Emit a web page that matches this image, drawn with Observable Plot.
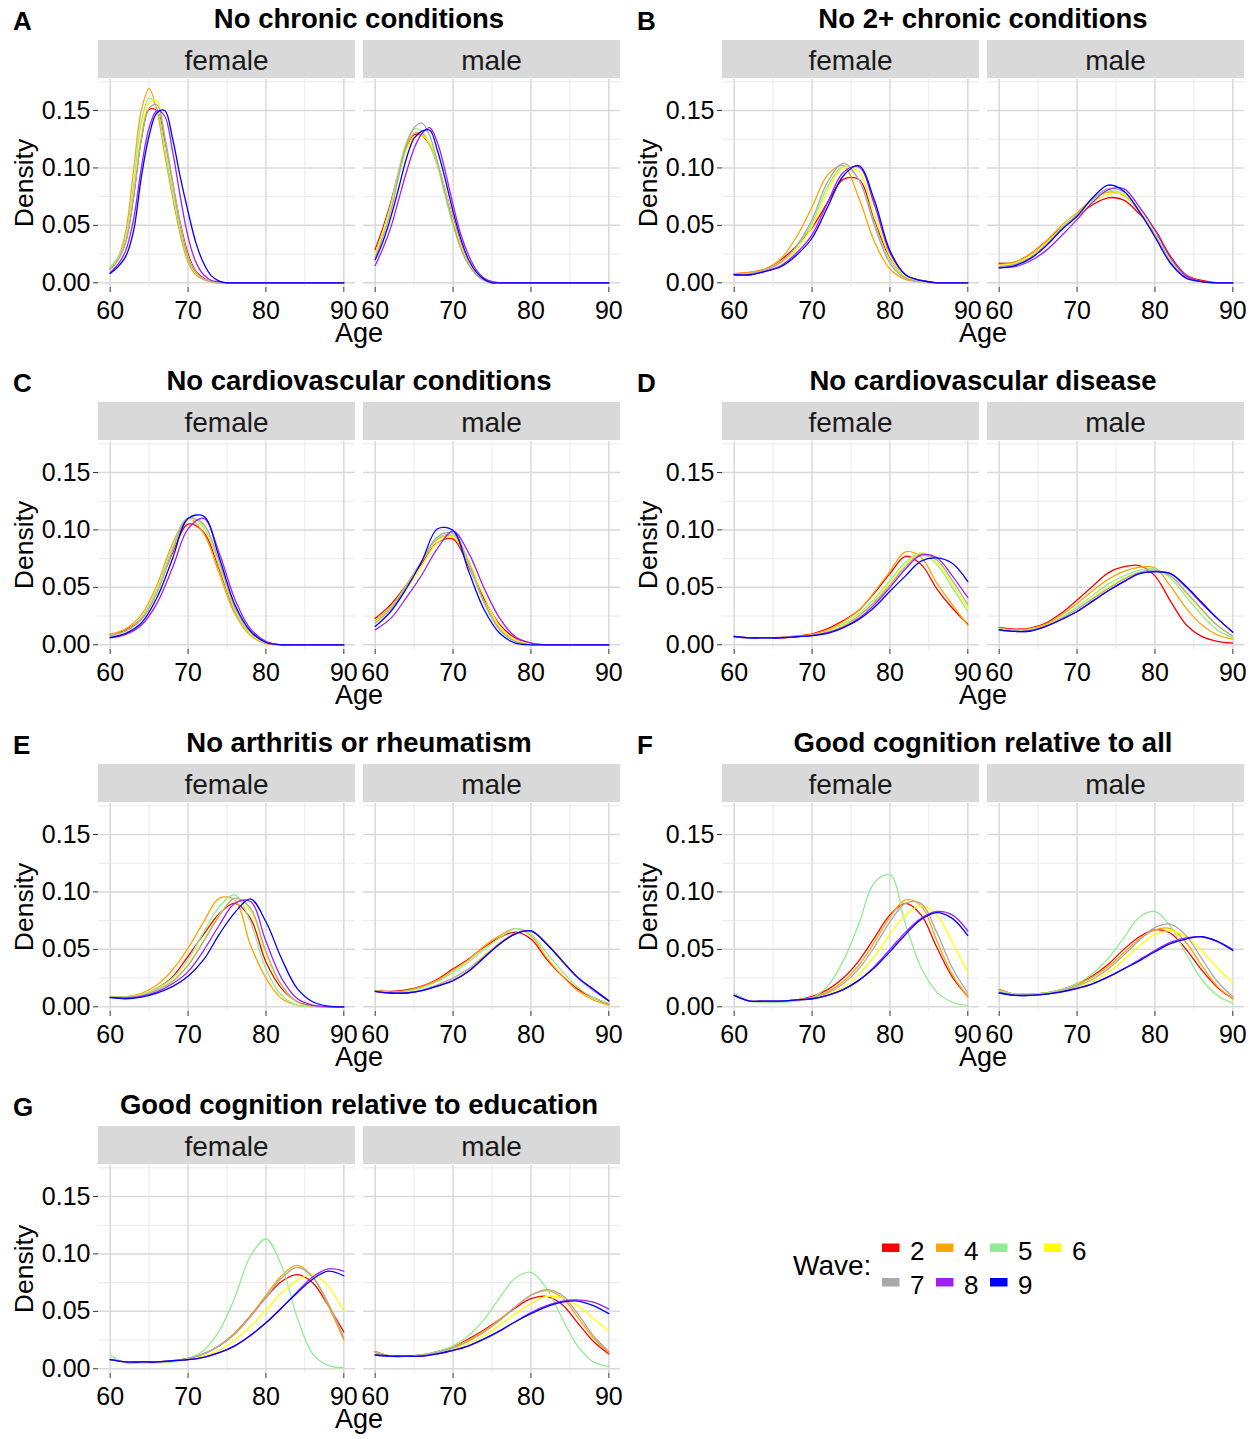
<!DOCTYPE html>
<html>
<head>
<meta charset="utf-8">
<script src="https://cdn.jsdelivr.net/npm/d3@7"></script>
<script src="https://cdn.jsdelivr.net/npm/@observablehq/plot@0.6"></script>
<style>
  body { margin: 0; background: #fff; }
  #fig { position: relative; width: 1260px; height: 1439px; overflow: hidden;
         font-family: "Liberation Sans", Arial, sans-serif; }
  #fig svg { overflow: visible; }
</style>
</head>
<body>
<div id="fig"></div>
<script>
// Survey waves and their line colours
const waves = ["2", "4", "5", "6", "7", "8", "9"];
const waveColors = ["#FF0000", "#FFA500", "#90EE90", "#FFFF00", "#A9A9A9", "#A020F0", "#0000FF"];

// Age grids the density estimates are tabulated on
const agesFine = [60,61,62,63,64,65,66,67,68,69,70,71,72,73,74,75,76,78,80,85,90];
const ages2 = [60,62,64,66,68,70,72,74,76,78,80,82,84,86,88,90];

const xTicks = [60, 70, 80, 90];
const yTicks = [0, 0.05, 0.10, 0.15];

// Densities per wave (rows in wave order 2,4,5,6,7,8,9)
// A: No chronic conditions
const A_female = [
  [0.012,0.02,0.036,0.075,0.125,0.151,0.15,0.125,0.088,0.052,0.025,0.01,0.004,0.001,0,0,0,0,0,0,0],
  [0.013,0.022,0.045,0.098,0.15,0.169,0.15,0.112,0.075,0.042,0.018,0.007,0.003,0.001,0,0,0,0,0,0,0],
  [0.014,0.022,0.04,0.085,0.14,0.161,0.152,0.118,0.08,0.046,0.02,0.008,0.003,0.001,0,0,0,0,0,0,0],
  [0.012,0.02,0.037,0.078,0.13,0.157,0.158,0.128,0.088,0.05,0.023,0.009,0.003,0.001,0,0,0,0,0,0,0],
  [0.012,0.02,0.036,0.075,0.125,0.152,0.155,0.128,0.088,0.05,0.022,0.009,0.003,0.001,0,0,0,0,0,0,0],
  [0.009,0.016,0.028,0.055,0.1,0.135,0.15,0.145,0.115,0.075,0.04,0.018,0.007,0.002,0.001,0,0,0,0,0,0],
  [0.008,0.014,0.023,0.045,0.092,0.128,0.148,0.15,0.126,0.092,0.062,0.035,0.017,0.006,0.0015,0,0,0,0,0,0]
];
const A_male = [
  [0.029,0.048,0.07,0.096,0.118,0.129,0.128,0.12,0.104,0.08,0.056,0.034,0.018,0.008,0.003,0.001,0,0,0,0,0],
  [0.026,0.045,0.067,0.094,0.118,0.13,0.13,0.12,0.102,0.078,0.052,0.03,0.016,0.007,0.002,0.001,0,0,0,0,0],
  [0.025,0.045,0.068,0.098,0.122,0.134,0.132,0.12,0.102,0.075,0.05,0.03,0.016,0.007,0.002,0,0,0,0,0,0],
  [0.025,0.043,0.065,0.092,0.115,0.127,0.128,0.122,0.105,0.08,0.055,0.033,0.018,0.008,0.003,0.001,0,0,0,0,0],
  [0.022,0.04,0.062,0.092,0.12,0.135,0.139,0.128,0.105,0.078,0.052,0.03,0.016,0.007,0.002,0,0,0,0,0,0],
  [0.015,0.03,0.048,0.072,0.096,0.117,0.13,0.135,0.122,0.097,0.068,0.042,0.024,0.011,0.004,0.001,0,0,0,0,0],
  [0.02,0.036,0.057,0.082,0.108,0.126,0.132,0.133,0.115,0.09,0.062,0.038,0.02,0.009,0.003,0,0,0,0,0,0]
];

// B: No 2+ chronic conditions
const B_female = [
  [0.008,0.009,0.012,0.02,0.032,0.048,0.07,0.09,0.09,0.054,0.022,0.006,0.002,0,0,0],
  [0.008,0.009,0.012,0.021,0.04,0.066,0.094,0.102,0.074,0.036,0.012,0.003,0.001,0,0,0],
  [0.007,0.008,0.011,0.018,0.031,0.052,0.084,0.101,0.09,0.052,0.019,0.005,0.001,0,0,0],
  [0.007,0.008,0.011,0.017,0.029,0.049,0.08,0.1,0.097,0.06,0.023,0.006,0.001,0,0,0],
  [0.007,0.008,0.011,0.018,0.032,0.055,0.088,0.104,0.09,0.05,0.017,0.004,0.001,0,0,0],
  [0.007,0.007,0.01,0.015,0.026,0.042,0.07,0.096,0.101,0.068,0.026,0.007,0.002,0,0,0],
  [0.007,0.007,0.01,0.014,0.024,0.039,0.066,0.093,0.102,0.072,0.028,0.007,0.002,0,0,0]
];
const B_male = [
  [0.017,0.018,0.025,0.036,0.048,0.058,0.068,0.074,0.072,0.06,0.046,0.023,0.007,0.002,0,0],
  [0.016,0.018,0.025,0.036,0.05,0.061,0.073,0.079,0.076,0.062,0.043,0.02,0.006,0.001,0,0],
  [0.015,0.017,0.023,0.034,0.048,0.059,0.072,0.08,0.077,0.062,0.043,0.02,0.005,0.001,0,0],
  [0.015,0.017,0.023,0.034,0.047,0.058,0.07,0.077,0.077,0.063,0.044,0.021,0.006,0.001,0,0],
  [0.014,0.016,0.022,0.033,0.047,0.059,0.073,0.082,0.079,0.062,0.042,0.018,0.005,0.001,0,0],
  [0.013,0.014,0.019,0.028,0.041,0.055,0.07,0.081,0.082,0.066,0.046,0.022,0.006,0.001,0,0],
  [0.013,0.015,0.021,0.032,0.046,0.058,0.074,0.085,0.08,0.062,0.04,0.017,0.004,0.001,0,0]
];

// C: No cardiovascular conditions
const C_female = [
  [0.009,0.013,0.023,0.047,0.08,0.105,0.098,0.066,0.03,0.01,0.002,0,0,0,0,0],
  [0.009,0.014,0.026,0.052,0.088,0.11,0.097,0.062,0.027,0.008,0.001,0,0,0,0,0],
  [0.008,0.012,0.023,0.048,0.085,0.11,0.102,0.068,0.03,0.009,0.002,0,0,0,0,0],
  [0.008,0.012,0.022,0.046,0.082,0.109,0.104,0.07,0.032,0.01,0.002,0,0,0,0,0],
  [0.008,0.012,0.022,0.045,0.082,0.11,0.105,0.072,0.033,0.011,0.002,0,0,0,0,0],
  [0.006,0.009,0.017,0.036,0.067,0.101,0.11,0.08,0.04,0.014,0.003,0,0,0,0,0],
  [0.0065,0.01,0.019,0.041,0.075,0.11,0.112,0.076,0.035,0.012,0.002,0,0,0,0,0]
];
const C_male = [
  [0.023,0.035,0.052,0.071,0.089,0.092,0.068,0.04,0.0175,0.006,0.0015,0,0,0,0,0],
  [0.021,0.033,0.052,0.073,0.092,0.094,0.07,0.037,0.014,0.004,0.001,0,0,0,0,0],
  [0.02,0.032,0.051,0.073,0.093,0.095,0.07,0.036,0.013,0.003,0,0,0,0,0,0],
  [0.02,0.031,0.048,0.069,0.089,0.094,0.074,0.042,0.016,0.004,0.001,0,0,0,0,0],
  [0.019,0.031,0.05,0.073,0.094,0.097,0.072,0.037,0.013,0.003,0,0,0,0,0,0],
  [0.013,0.023,0.041,0.061,0.084,0.099,0.08,0.049,0.023,0.007,0.0015,0,0,0,0,0],
  [0.016,0.029,0.049,0.073,0.101,0.0995,0.064,0.0305,0.01,0.0015,0,0,0,0,0,0]
];

// D: No cardiovascular disease
const D_female = [
  [0.0073,0.006,0.006,0.0065,0.0075,0.0095,0.014,0.021,0.03,0.045,0.062,0.077,0.07,0.049,0.032,0.018],
  [0.0073,0.006,0.006,0.0063,0.0072,0.009,0.013,0.02,0.03,0.046,0.064,0.081,0.076,0.054,0.035,0.017],
  [0.007,0.006,0.006,0.006,0.007,0.0085,0.012,0.018,0.027,0.04,0.056,0.072,0.08,0.07,0.05,0.029],
  [0.007,0.006,0.006,0.006,0.007,0.0085,0.0115,0.017,0.026,0.038,0.054,0.07,0.08,0.072,0.053,0.032],
  [0.007,0.006,0.006,0.006,0.007,0.0083,0.011,0.016,0.025,0.037,0.052,0.068,0.079,0.074,0.056,0.035],
  [0.007,0.006,0.006,0.006,0.007,0.008,0.0105,0.015,0.023,0.035,0.05,0.066,0.078,0.076,0.06,0.041],
  [0.0073,0.006,0.006,0.006,0.007,0.008,0.01,0.015,0.022,0.0326,0.0466,0.06,0.0728,0.0757,0.071,0.055]
];
const D_male = [
  [0.015,0.0137,0.0146,0.019,0.0276,0.039,0.051,0.0626,0.068,0.069,0.06,0.038,0.0175,0.0073,0.003,0.0015],
  [0.0146,0.013,0.014,0.018,0.026,0.036,0.047,0.057,0.064,0.0675,0.067,0.051,0.032,0.0175,0.0087,0.005],
  [0.014,0.0125,0.013,0.017,0.024,0.033,0.043,0.053,0.06,0.065,0.066,0.058,0.042,0.026,0.013,0.006],
  [0.0135,0.012,0.0125,0.0165,0.023,0.031,0.041,0.05,0.058,0.063,0.065,0.06,0.045,0.03,0.017,0.008],
  [0.0135,0.012,0.0125,0.0165,0.023,0.031,0.04,0.049,0.057,0.063,0.065,0.06,0.046,0.031,0.017,0.0075],
  [0.013,0.0116,0.012,0.016,0.022,0.029,0.038,0.047,0.055,0.062,0.064,0.062,0.05,0.036,0.023,0.011],
  [0.013,0.0116,0.012,0.016,0.022,0.029,0.038,0.047,0.055,0.062,0.0635,0.062,0.051,0.037,0.023,0.011]
];

// E: No arthritis or rheumatism
const E_female = [
  [0.0087,0.0087,0.01,0.016,0.026,0.044,0.063,0.081,0.09,0.077,0.039,0.016,0.0044,0.001,0,0],
  [0.0087,0.0087,0.0116,0.019,0.032,0.051,0.074,0.0946,0.093,0.054,0.025,0.0073,0.0015,0,0,0],
  [0.0087,0.0087,0.0105,0.016,0.025,0.041,0.065,0.087,0.0975,0.074,0.033,0.01,0.0015,0,0,0],
  [0.0085,0.0085,0.01,0.015,0.023,0.037,0.058,0.08,0.094,0.084,0.046,0.018,0.004,0,0,0],
  [0.0085,0.0085,0.0098,0.0145,0.022,0.036,0.057,0.079,0.0946,0.086,0.048,0.019,0.0044,0.0005,0,0],
  [0.0082,0.0078,0.009,0.013,0.02,0.0306,0.049,0.071,0.09,0.0917,0.057,0.025,0.0073,0.0015,0,0],
  [0.008,0.007,0.0085,0.012,0.0175,0.0265,0.041,0.063,0.082,0.094,0.074,0.042,0.016,0.0044,0.0006,0]
];
const E_male = [
  [0.014,0.0134,0.0148,0.018,0.024,0.033,0.0416,0.052,0.0605,0.065,0.059,0.0416,0.027,0.0154,0.008,0.0023],
  [0.014,0.0128,0.014,0.0175,0.023,0.032,0.041,0.053,0.062,0.068,0.062,0.043,0.027,0.014,0.006,0.0015],
  [0.014,0.0125,0.0135,0.0165,0.022,0.03,0.039,0.05,0.06,0.068,0.0634,0.047,0.031,0.017,0.008,0.003],
  [0.0135,0.012,0.012,0.0145,0.019,0.025,0.033,0.045,0.056,0.064,0.066,0.056,0.041,0.026,0.015,0.006],
  [0.0135,0.012,0.012,0.0145,0.019,0.025,0.033,0.044,0.055,0.064,0.066,0.055,0.04,0.025,0.014,0.005],
  [0.0135,0.012,0.012,0.014,0.018,0.023,0.031,0.043,0.055,0.0635,0.066,0.055,0.04,0.0256,0.015,0.005],
  [0.0135,0.012,0.012,0.014,0.018,0.0227,0.031,0.043,0.0547,0.0634,0.066,0.0547,0.04,0.0256,0.0154,0.0052]
];

// F: Good cognition relative to all
const F_female = [
  [0.01,0.005,0.005,0.005,0.006,0.009,0.015,0.025,0.04,0.06,0.08,0.09,0.08,0.052,0.026,0.009],
  [0.01,0.005,0.005,0.005,0.006,0.008,0.013,0.022,0.036,0.056,0.078,0.093,0.088,0.058,0.028,0.009],
  [0.012,0.005,0.004,0.004,0.005,0.008,0.018,0.04,0.072,0.108,0.115,0.072,0.034,0.013,0.004,0.001],
  [0.01,0.005,0.005,0.005,0.006,0.007,0.011,0.017,0.028,0.044,0.063,0.08,0.088,0.08,0.056,0.03],
  [0.01,0.005,0.005,0.005,0.006,0.008,0.012,0.02,0.033,0.052,0.074,0.09,0.09,0.065,0.034,0.012],
  [0.01,0.005,0.005,0.005,0.006,0.007,0.01,0.015,0.023,0.035,0.05,0.065,0.077,0.083,0.08,0.066],
  [0.01,0.005,0.005,0.005,0.006,0.007,0.01,0.015,0.023,0.034,0.048,0.063,0.076,0.082,0.077,0.062]
];
const F_male = [
  [0.015,0.011,0.011,0.012,0.015,0.02,0.027,0.037,0.05,0.061,0.067,0.064,0.05,0.032,0.017,0.007],
  [0.015,0.011,0.011,0.012,0.015,0.019,0.026,0.035,0.047,0.059,0.067,0.068,0.056,0.036,0.018,0.007],
  [0.014,0.011,0.011,0.012,0.015,0.02,0.029,0.042,0.06,0.078,0.083,0.07,0.046,0.024,0.01,0.003],
  [0.013,0.01,0.01,0.011,0.013,0.017,0.022,0.03,0.041,0.053,0.063,0.066,0.061,0.049,0.034,0.021],
  [0.013,0.01,0.01,0.011,0.014,0.018,0.024,0.033,0.045,0.058,0.069,0.072,0.062,0.042,0.022,0.009],
  [0.012,0.01,0.01,0.011,0.013,0.016,0.02,0.026,0.033,0.041,0.049,0.056,0.06,0.061,0.057,0.05],
  [0.012,0.01,0.01,0.011,0.013,0.016,0.02,0.026,0.033,0.04,0.048,0.055,0.059,0.061,0.057,0.049]
];

// G: Good cognition relative to education
const G_female = [
  [0.008,0.006,0.006,0.006,0.007,0.009,0.013,0.02,0.031,0.046,0.062,0.076,0.082,0.075,0.055,0.032],
  [0.008,0.006,0.006,0.006,0.007,0.009,0.013,0.02,0.031,0.046,0.064,0.081,0.09,0.08,0.055,0.025],
  [0.012,0.005,0.005,0.005,0.006,0.009,0.016,0.033,0.062,0.098,0.113,0.09,0.045,0.013,0.003,0.001],
  [0.008,0.006,0.006,0.006,0.007,0.008,0.011,0.016,0.025,0.037,0.051,0.066,0.077,0.082,0.072,0.05],
  [0.008,0.006,0.006,0.006,0.007,0.009,0.013,0.02,0.03,0.045,0.062,0.079,0.088,0.08,0.057,0.027],
  [0.008,0.006,0.006,0.006,0.007,0.008,0.01,0.014,0.02,0.029,0.04,0.053,0.067,0.08,0.087,0.085],
  [0.008,0.006,0.006,0.006,0.007,0.008,0.01,0.014,0.02,0.029,0.04,0.053,0.066,0.078,0.085,0.081]
];
const G_male = [
  [0.015,0.011,0.011,0.012,0.015,0.019,0.026,0.034,0.043,0.053,0.061,0.063,0.056,0.04,0.024,0.013],
  [0.015,0.011,0.011,0.012,0.015,0.019,0.025,0.033,0.043,0.054,0.064,0.068,0.062,0.045,0.027,0.014],
  [0.014,0.011,0.011,0.012,0.015,0.02,0.029,0.043,0.062,0.079,0.084,0.07,0.044,0.02,0.006,0.002],
  [0.013,0.011,0.011,0.011,0.013,0.017,0.022,0.029,0.038,0.048,0.057,0.063,0.062,0.055,0.044,0.033],
  [0.014,0.011,0.011,0.012,0.014,0.018,0.024,0.032,0.042,0.054,0.064,0.069,0.064,0.048,0.029,0.015],
  [0.012,0.011,0.011,0.011,0.013,0.016,0.02,0.026,0.033,0.041,0.049,0.055,0.059,0.06,0.058,0.052],
  [0.012,0.011,0.011,0.011,0.013,0.016,0.02,0.026,0.033,0.041,0.048,0.054,0.058,0.059,0.055,0.048]
];

const panels = [
  { letter: "A", title: "No chronic conditions", ages: agesFine, female: A_female, male: A_male },
  { letter: "B", title: "No 2+ chronic conditions", ages: ages2, female: B_female, male: B_male },
  { letter: "C", title: "No cardiovascular conditions", ages: ages2, female: C_female, male: C_male },
  { letter: "D", title: "No cardiovascular disease", ages: ages2, female: D_female, male: D_male },
  { letter: "E", title: "No arthritis or rheumatism", ages: ages2, female: E_female, male: E_male },
  { letter: "F", title: "Good cognition relative to all", ages: ages2, female: F_female, male: F_male },
  { letter: "G", title: "Good cognition relative to education", ages: ages2, female: G_female, male: G_male }
];

// Layout (pixels)
const colStep = 624, rowStep = 362;
const facetW = 257, facetTop = 79, facetH = 208;
const femaleLeft = 98, maleLeft = 363;
const FONT = '"Liberation Sans", Arial, sans-serif';

const fig = d3.select("#fig");
const deco = fig.append("svg")
  .attr("width", 1260).attr("height", 1439)
  .style("position", "absolute").style("left", "0px").style("top", "0px")
  .attr("font-family", FONT);

function tidy(ages, rows) {
  const out = [];
  rows.forEach((vals, k) => vals.forEach((d, j) => out.push({ age: ages[j], density: d, wave: waves[k] })));
  return out;
}

function facet(data, withY) {
  const marks = [
    Plot.gridX({ ticks: [65, 75, 85], stroke: "#ebebeb", strokeOpacity: 1, strokeWidth: 1 }),
    Plot.gridY({ ticks: [0.025, 0.075, 0.125, 0.175], stroke: "#ebebeb", strokeOpacity: 1, strokeWidth: 1 }),
    Plot.gridX({ ticks: xTicks, stroke: "#d9d9d9", strokeOpacity: 1, strokeWidth: 1.5 }),
    Plot.gridY({ ticks: yTicks, stroke: "#d9d9d9", strokeOpacity: 1, strokeWidth: 1.5 }),
    Plot.line(data, { x: "age", y: "density", z: "wave", stroke: "wave", strokeWidth: 1.3, curve: "catmull-rom", clip: true }),
    Plot.axisX({ ticks: xTicks, tickSize: 5, tickPadding: 9, stroke: "#333", fontSize: 25, label: null })
  ];
  if (withY) {
    marks.push(Plot.axisY({ ticks: yTicks, tickFormat: d3.format(".2f"), tickSize: 5, tickPadding: 3, stroke: "#333", fontSize: 25, label: null }));
  }
  return Plot.plot({
    width: facetW + (withY ? femaleLeft : 0),
    height: facetH + 45,
    marginTop: 0,
    marginBottom: 45,
    marginLeft: withY ? femaleLeft : 0,
    marginRight: 0,
    style: { fontFamily: FONT, fontSize: "25px", color: "#000", background: "transparent", overflow: "visible" },
    x: { domain: [58.5, 91.5] },
    y: { domain: [-0.0041, 0.177], axis: null },
    color: { domain: waves, range: waveColors },
    marks
  });
}

panels.forEach((p, i) => {
  const ox = colStep * (i % 2), oy = rowStep * Math.floor(i / 2);

  deco.append("text").attr("x", ox + 13).attr("y", oy + 30)
    .attr("font-size", 26).attr("font-weight", "bold").text(p.letter);
  deco.append("text").attr("x", ox + 359).attr("y", oy + 28).attr("text-anchor", "middle")
    .attr("font-size", 27.5).attr("font-weight", "bold").text(p.title);

  [["female", femaleLeft], ["male", maleLeft]].forEach(([lab, dx]) => {
    deco.append("rect").attr("x", ox + dx).attr("y", oy + 40).attr("width", facetW).attr("height", 38).attr("fill", "#d9d9d9");
    deco.append("text").attr("x", ox + dx + facetW / 2).attr("y", oy + 70).attr("text-anchor", "middle")
      .attr("font-size", 28).attr("fill", "#1a1a1a").text(lab);
  });

  deco.append("text").attr("transform", `translate(${ox + 33},${oy + facetTop + facetH / 2}) rotate(-90)`)
    .attr("text-anchor", "middle").attr("font-size", 26.5).text("Density");
  deco.append("text").attr("x", ox + 359).attr("y", oy + 342).attr("text-anchor", "middle")
    .attr("font-size", 27).text("Age");

  const f = facet(tidy(p.ages, p.female), true);
  d3.select(f).style("position", "absolute").style("left", `${ox}px`).style("top", `${oy + facetTop}px`);
  fig.node().appendChild(f);

  const m = facet(tidy(p.ages, p.male), false);
  d3.select(m).style("position", "absolute").style("left", `${ox + maleLeft}px`).style("top", `${oy + facetTop}px`);
  fig.node().appendChild(m);
});

// Wave legend
deco.append("text").attr("x", 793).attr("y", 1275).attr("font-size", 28).text("Wave:");
waves.forEach((w, k) => {
  const col = k % 4, row = Math.floor(k / 4);
  const x = 882 + 54 * col, y = row === 0 ? 1243.5 : 1278;
  deco.append("rect").attr("x", x).attr("y", y).attr("width", 17.5).attr("height", 8.5).attr("fill", waveColors[k]);
  deco.append("text").attr("x", x + 28).attr("y", y + 16).attr("font-size", 26).text(w);
});
</script>
</body>
</html>
